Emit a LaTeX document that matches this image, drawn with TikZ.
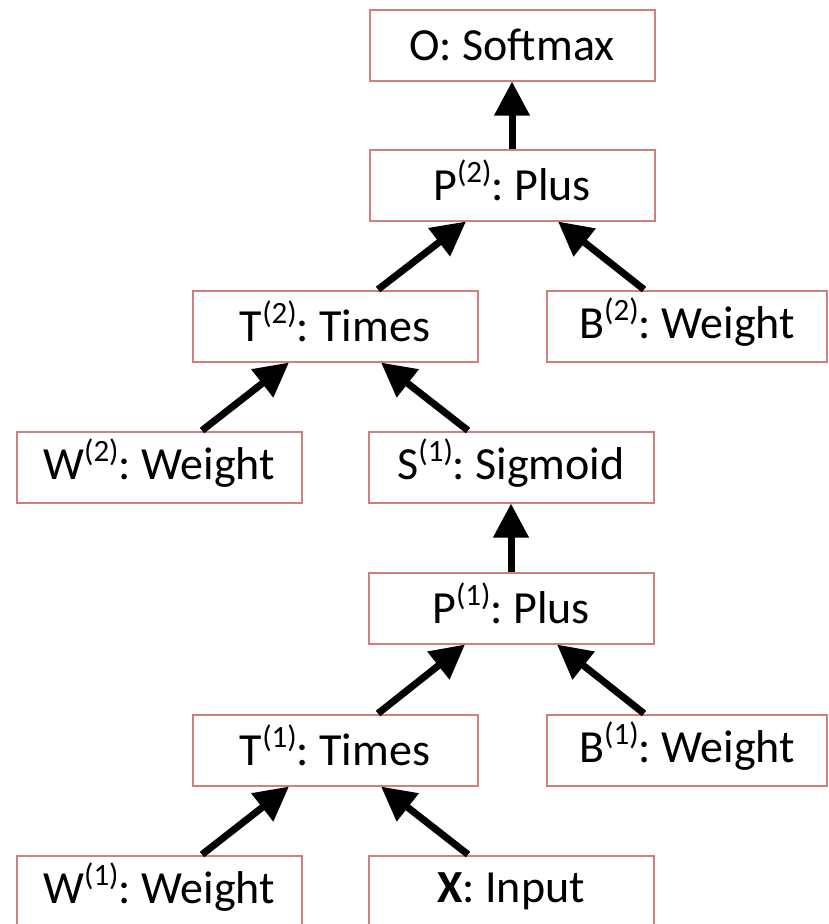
\documentclass[tikz,border=0pt]{standalone}
\usepackage{fontspec}
\setmainfont{Carlito}
\frenchspacing
\usetikzlibrary{arrows.meta}
\definecolor{boxred}{RGB}{207,128,126}
\newcommand{\supx}[1]{\smash{\raisebox{18pt}{\fontsize{31}{34}\selectfont(#1)}}}
\tikzset{
  opbox/.style={draw=boxred, line width=2pt, fill=white, minimum width=285pt, minimum height=71pt, inner sep=0pt, font=\fontsize{46}{52}\selectfont},
  wbox/.style={opbox, minimum width=280pt},
  conn/.style={line width=7pt, -{Triangle[length=34pt,width=34pt]}}
}
\begin{document}
\begin{tikzpicture}[x=1pt,y=-1pt]
\useasboundingbox (0,0) rectangle (828,924);
\node[opbox] (O) at (512,45) {O: Softmax};
\node[opbox] (P2) at (512,185) {P\supx{2}: Plus};
\node[opbox] (T2) at (335,326) {T\supx{2}: Times};
\node[wbox] (B2) at (687,326) {B\supx{2}: Weight};
\node[opbox] (W2) at (159,467) {W\supx{2}: Weight};
\node[opbox] (S1) at (511,467) {S\supx{1}: Sigmoid};
\node[opbox] (P1) at (511,608) {P\supx{1}: Plus};
\node[opbox] (T1) at (335,750) {T\supx{1}: Times};
\node[wbox] (B1) at (687,750) {B\supx{1}: Weight};
\node[opbox] (W1) at (159,891) {W\supx{1}: Weight};
\node[opbox] (X) at (511,891) {\textbf{X}: Input};

\draw[conn] (P2.north) -- (O.south);
\draw[conn] ([xshift=43pt]T2.north) -- ([xshift=-46pt]P2.south);
\draw[conn] ([xshift=-43pt]B2.north) -- ([xshift=46pt]P2.south);
\draw[conn] ([xshift=43pt]W2.north) -- ([xshift=-46pt]T2.south);
\draw[conn] ([xshift=-43pt]S1.north) -- ([xshift=46pt]T2.south);
\draw[conn] (P1.north) -- (S1.south);
\draw[conn] ([xshift=43pt]T1.north) -- ([xshift=-46pt]P1.south);
\draw[conn] ([xshift=-43pt]B1.north) -- ([xshift=46pt]P1.south);
\draw[conn] ([xshift=43pt]W1.north) -- ([xshift=-46pt]T1.south);
\draw[conn] ([xshift=-43pt]X.north) -- ([xshift=46pt]T1.south);
\end{tikzpicture}
\end{document}
